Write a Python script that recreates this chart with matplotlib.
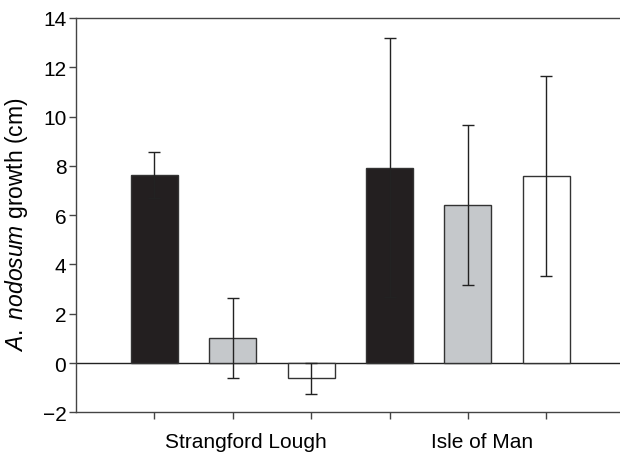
import matplotlib.pyplot as plt

plt.rcParams['font.family'] = 'Liberation Sans'
plt.rcParams['mathtext.fontset'] = 'custom'
plt.rcParams['mathtext.it'] = 'Liberation Sans:italic'
plt.rcParams['mathtext.rm'] = 'Liberation Sans'

# growth per treatment, three at each site
growth = [7.64, 1.03, -0.62, 7.93, 6.42, 7.59]
errs = [0.93, 1.62, 0.62, 5.24, 3.25, 4.05]
fills = ['#231f20', '#c5c8cb', '#ffffff', '#231f20', '#c5c8cb', '#ffffff']
sites = ['Strangford Lough', 'Isle of Man']
site_pos = [1.17, 4.18]

fig = plt.figure(figsize=(6.2, 4.6), dpi=100)
ax = fig.add_axes([0.1226, 0.1015, 0.8774, 0.8572])

pos = list(range(len(growth)))
ax.bar(pos, growth, width=0.6, color=fills, edgecolor='#333333', linewidth=1.0, zorder=2)
ax.errorbar(pos, growth, yerr=errs, fmt='none', ecolor='#222222',
            elinewidth=1.0, capsize=4, capthick=1.0, zorder=3)
ax.axhline(0, color='#222222', linewidth=1.0, zorder=1)

ax.set_xlim(-1, 5.94)
ax.set_ylim(-2, 14)
ax.set_yticks(range(-2, 15, 2))
ax.set_yticklabels(['\u22122'] + [str(v) for v in range(0, 15, 2)])
ax.set_xticks(pos)
ax.set_xticklabels([])

for s in ['top', 'left', 'bottom']:
    ax.spines[s].set_color('#444444')
    ax.spines[s].set_linewidth(1.0)
ax.spines['right'].set_visible(False)
ax.tick_params(axis='both', direction='out', length=5, width=1.0, color='#444444',
               labelsize=15, pad=2)

for name, x in zip(sites, site_pos):
    ax.text(x, -3.2, name, ha='center', va='center', fontsize=15)

ax.set_ylabel(r'$\mathit{A.\ nodosum}$ growth (cm)', fontsize=16.5, labelpad=9)
ax.yaxis.label.set_y(0.478)

fig.savefig('out.png', dpi=100)
